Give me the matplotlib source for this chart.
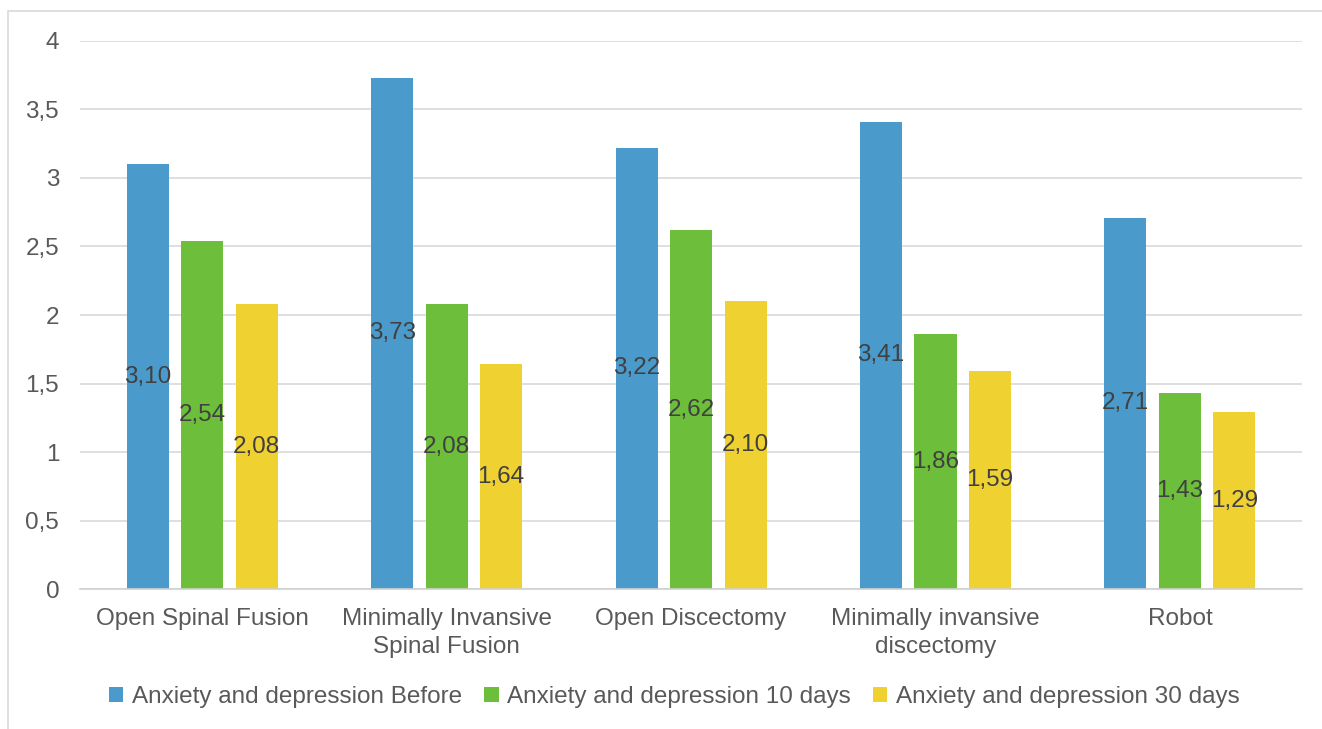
import numpy as np
import matplotlib.pyplot as plt
from matplotlib.patches import Rectangle

plt.rcParams['font.family'] = ['Liberation Sans', 'DejaVu Sans']

categories = ['Open Spinal Fusion', 'Minimally Invansive\nSpinal Fusion', 'Open Discectomy',
              'Minimally invansive\ndiscectomy', 'Robot']
series = ['Anxiety and depression Before', 'Anxiety and depression 10 days',
          'Anxiety and depression 30 days']
before = [3.10, 3.73, 3.22, 3.41, 2.71]
days10 = [2.54, 2.08, 2.62, 1.86, 1.43]
days30 = [2.08, 1.64, 2.10, 1.59, 1.29]
colors = ['#4A9BCB', '#6DBE3A', '#F0D132']

fig = plt.figure(figsize=(13.22, 7.29), dpi=100)
ax = fig.add_axes([0.0605, 0.192, 0.9245, 0.7518])

# light frame round the chart area
fig.patches.append(Rectangle((8 / 1322, -0.1), 1.2, 1 - 11 / 729 + 0.1, transform=fig.transFigure,
                             fill=False, edgecolor='#d9d9d9', linewidth=1.2))

x = np.arange(len(categories))
w = 0.172
step = 0.223
for i, (vals, name, c) in enumerate(zip([before, days10, days30], series, colors)):
    bars = ax.bar(x + (i - 1) * step, vals, width=w, color=c, label=name, zorder=2)
    labels = [f'{v:.2f}'.replace('.', ',') for v in vals]
    ax.bar_label(bars, labels=labels, label_type='center', fontsize=17.5, color='#404040')

ax.set_xlim(-0.5, len(categories) - 0.5)
ax.set_ylim(0, 4)
ax.set_yticks(np.arange(0, 4.01, 0.5))
ax.set_yticklabels(['0', '0,5', '1', '1,5', '2', '2,5', '3', '3,5', '4'])
ax.set_xticks(x)
ax.set_xticklabels(categories, linespacing=1.35)
ax.tick_params(axis='both', length=0, labelsize=17.5, colors='#595959')
ax.tick_params(axis='x', pad=14)
ax.tick_params(axis='y', pad=15)
ax.grid(axis='y', color='#d9d9d9', linewidth=1.2, zorder=0)
for s in ['top', 'right', 'left']:
    ax.spines[s].set_visible(False)
ax.spines['bottom'].set_color('#d0d0d0')
ax.spines['bottom'].set_linewidth(1.2)

fig.legend(loc='center', bbox_to_anchor=(0.51, 1 - 697 / 729), ncol=3, frameon=False,
           fontsize=17.5, labelcolor='#595959', handlelength=0.6, handleheight=0.6,
           handletextpad=0.35, columnspacing=0.9)

fig.savefig('out.png', dpi=100)
